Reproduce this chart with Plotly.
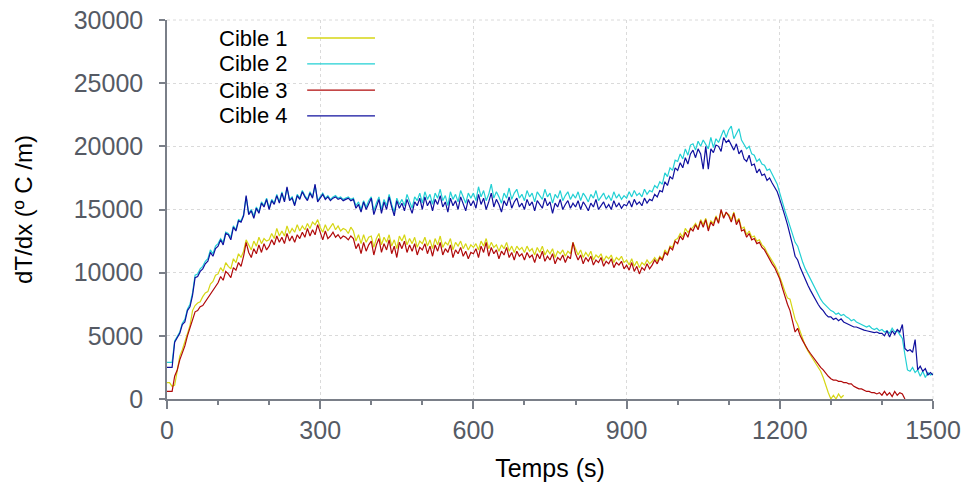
import plotly.graph_objects as go

# ---- Data (5 s sampling) ----
time_s = list(range(0, 1505, 5))

cible_1 = [
    1300, 1300, 1000, 1100, 2200, 3400, 3900, 4500, 5200, 5800, 7000, 7400, 7600, 7700, 8100, 8400, 8500, 9100, 9300, 9800,
    9900, 10400, 10100, 10800, 10500, 10300, 11100, 10800, 11500, 11200, 11700, 12600, 12200, 11800, 12500, 12100, 12800, 12300, 12700, 12500,
    12600, 13100, 12700, 13500, 12900, 13300, 12900, 13700, 13100, 13500, 13200, 13800, 13300, 13700, 13400, 13900, 13500, 14000, 13800, 14200,
    13600, 13200, 13800, 13300, 13600, 13900, 13400, 13700, 13300, 13500, 13400, 13100, 13600, 13300, 12500, 13000, 12300, 13000, 12400, 12800,
    12900, 12000, 12700, 13100, 12200, 12800, 12400, 13000, 12100, 12600, 11900, 12900, 12500, 13000, 12200, 12700, 12300, 12800, 12000, 12500,
    12300, 12800, 12100, 12600, 11900, 12700, 12200, 12900, 12000, 12400, 12200, 12700, 11800, 12400, 12100, 12500, 11900, 12300, 11800, 12200,
    12000, 12300, 11800, 12500, 12100, 12700, 11900, 12400, 12000, 12200, 11700, 12200, 11900, 12400, 11700, 12100, 11600, 12100, 11800, 12000,
    11600, 12100, 11700, 11900, 11400, 12000, 11600, 12100, 11400, 11800, 11500, 11900, 11200, 11700, 11500, 11800, 11300, 11700, 11500, 12400,
    11900, 11400, 11800, 11200, 11600, 11300, 11700, 11000, 11400, 11200, 11500, 10900, 11300, 11100, 11400, 10800, 11200, 11000, 11300, 10800,
    11000, 10600, 11100, 10500, 10900, 10400, 10800, 10600, 11000, 10700, 10900, 11200, 10900, 11300, 11100, 11800, 11500, 12100, 12000, 12600,
    12700, 13100, 12800, 13500, 13200, 13400, 13600, 13900, 13500, 14200, 13800, 14300, 13500, 14100, 13900, 14500, 14000, 14900, 14400, 14700,
    14600, 14200, 14800, 14000, 14300, 13500, 13600, 13000, 13300, 12800, 12900, 12500, 12600, 12200, 12000, 11600, 11300, 10900, 10600, 10200,
    9700, 9100, 8500, 8000, 7900, 7000, 6300, 5900, 5300, 4700, 4200, 3800, 3500, 3100, 2800, 2600, 2200, 1700, 1000, 500,
    0, 300, 0, 400, 100, 300,
]

cible_2 = [
    2900, 2900, 2900, 4600, 5000, 5300, 6000, 6300, 7100, 7500, 8400, 9800, 9900, 10300, 10500, 10900, 11100, 11800, 11500, 12100,
    12300, 12700, 12400, 13200, 13100, 12800, 13700, 13400, 14200, 14100, 14600, 16000, 14700, 15000, 14500, 15200, 14800, 15600, 15300, 15900,
    15100, 15800, 15500, 16200, 15600, 16400, 15700, 16700, 15800, 16000, 15400, 16200, 15900, 16500, 16100, 15800, 16400, 16000, 16900, 15700,
    16000, 16300, 15900, 16100, 15800, 16000, 16100, 15900, 16000, 15800, 15900, 16000, 15800, 15900, 15300, 15600, 15000, 15700, 15200, 15700,
    16000, 14900, 15500, 16000, 15000, 15800, 15300, 16200, 15400, 14800, 15900, 15400, 15800, 15300, 16200, 15600, 15100, 16000, 15700, 16300,
    15500, 16400, 15800, 16200, 15400, 16300, 15900, 16600, 15700, 16100, 15300, 16400, 15800, 16200, 15600, 16500, 16000, 15500, 16300, 15900,
    16300, 15700, 16800, 16000, 16500, 15700, 16200, 17000, 15900, 16400, 16000, 15500, 16300, 15900, 16700, 15800, 16300, 16600, 15900, 16200,
    15700, 16500, 16000, 16300, 15600, 16400, 16100, 15800, 16600, 16000, 16300, 15500, 16200, 15900, 16500, 15700, 16100, 16400, 15800, 16200,
    15900, 16400, 15700, 16300, 16000, 15600, 16200, 15900, 16500, 15700, 16000, 16300, 15800, 16100, 15700, 16400, 15900, 16200, 15800, 16100,
    15900, 16400, 16000, 16500, 16100, 16300, 16000, 16600, 16200, 16500, 16400, 16900, 16700, 17200, 17000, 17900, 17600, 18300, 18100, 18900,
    18800, 19400, 19000, 19800, 19300, 20100, 20200, 19700, 20400, 20000, 20500, 20100, 19800, 20700, 19900, 20600, 20300, 20800, 21300, 20700,
    21300, 21600, 20600, 21000, 21400, 20500, 20200, 19800, 20000, 19400, 19300, 18800, 19000, 18600, 18500, 18100, 18200, 17800, 17500, 17000,
    16300, 15500, 14900, 14300, 13700, 13000, 12400, 12100, 11400, 10800, 10300, 9900, 9400, 9000, 8600, 8200, 7900, 7600, 7400, 7200,
    7000, 6900, 6700, 6800, 6600, 6700, 6500, 6400, 6200, 6300, 6100, 6000, 5900, 5800, 5700, 5800, 5600, 5500, 5600, 5400,
    5500, 5300, 5400, 5200, 5600, 5300, 5400, 5100, 4800, 3500, 2300, 2200, 2500, 2100, 2300, 1800, 2200, 1700, 2100, 1900,
    2000,
]

cible_3 = [
    600, 600, 600, 1800, 2300, 3100, 3600, 4200, 5000, 5700, 6400, 6900, 7000, 7300, 7400, 7700, 7900, 8300, 8600, 8800,
    9200, 9700, 9400, 10100, 9900, 9600, 10400, 10200, 10800, 10500, 11300, 12400, 11600, 11200, 11900, 11500, 12200, 11600, 12300, 11800,
    12100, 12600, 12200, 12900, 12400, 12800, 12300, 13100, 12500, 12900, 12400, 13000, 12700, 13200, 12800, 13500, 12900, 13400, 13000, 13800,
    13100, 12600, 13300, 12700, 12900, 13200, 12800, 13000, 12700, 12900, 12800, 12600, 12900, 12700, 11900, 12300, 11500, 12400, 11700, 12200,
    12500, 11400, 12200, 12700, 11600, 12300, 11800, 12600, 11500, 12100, 11200, 12400, 11900, 12500, 11600, 12200, 11700, 12300, 11400, 12000,
    11800, 12300, 11500, 12100, 11300, 12200, 11700, 12400, 11400, 11900, 11600, 12200, 11200, 11800, 11500, 12000, 11300, 11700, 11100, 11600,
    11500, 11900, 11200, 12100, 11600, 12400, 11300, 12000, 11500, 11800, 11100, 11700, 11400, 12000, 11200, 11600, 11000, 11700, 11300, 11500,
    11000, 11600, 11200, 11400, 10800, 11500, 11100, 11700, 10900, 11300, 11000, 11500, 10700, 11200, 11000, 11400, 10800, 11300, 11100, 12400,
    11500, 11000, 11400, 10700, 11200, 10900, 11300, 10600, 11000, 10800, 11200, 10500, 10900, 10700, 11100, 10400, 10800, 10600, 10900, 10300,
    10600, 10200, 10800, 10100, 10500, 9900, 10400, 10200, 10700, 10300, 10600, 11000, 10700, 11200, 11000, 11600, 11400, 12000, 11800, 12500,
    12300, 12900, 12600, 13200, 12800, 13500, 13300, 13800, 13400, 14100, 13600, 14200, 13300, 14000, 13700, 14400, 13900, 15000, 14300, 14800,
    14500, 14000, 14700, 13800, 14200, 13300, 13400, 12800, 13100, 12600, 12700, 12300, 12400, 12000, 11800, 11400, 11100, 10700, 10400, 10000,
    9500, 8800, 8100, 7500, 7000, 6200, 5300, 5600, 5000, 4600, 4200, 3900, 3600, 3300, 3000, 2800, 2500, 2300, 2000, 1800,
    1600, 1500, 1500, 1400, 1400, 1300, 1300, 1200, 1200, 1000, 900, 800, 800, 700, 600, 600, 500, 500, 400, 500,
    300, 600, 300, 500, 200, 600, 300, 500, 400, 0,
]

cible_4 = [
    2500, 2500, 2500, 4500, 4900, 5200, 5900, 6100, 7000, 7300, 8200, 9600, 9700, 10100, 10300, 10700, 10900, 11600, 11300, 11900,
    12100, 12600, 12200, 13100, 13000, 12600, 13600, 13300, 14100, 14000, 14500, 16100, 14600, 14900, 14300, 15100, 14700, 15500, 15200, 15800,
    15000, 15700, 15400, 16100, 15500, 16300, 15600, 16800, 15700, 15900, 15300, 16100, 15800, 16400, 16000, 15700, 16300, 15900, 17000, 15600,
    15900, 16200, 15800, 16000, 15700, 15900, 16000, 15800, 15900, 15700, 15800, 15900, 15700, 15800, 15100, 15400, 14800, 15600, 15000, 15500,
    15900, 14600, 15300, 15800, 14700, 15600, 15000, 16000, 15200, 14500, 15700, 15100, 15500, 14900, 15800, 15200, 14700, 15600, 15300, 15900,
    15000, 16000, 15300, 15700, 14900, 15800, 15400, 16100, 15200, 15600, 14800, 15900, 15300, 15700, 15000, 16000, 15500, 14900, 15800, 15300,
    15700, 15100, 16200, 15400, 15900, 15000, 15600, 16300, 15200, 15800, 15400, 14800, 15700, 15300, 16000, 15100, 15600, 15900, 15200, 15500,
    15000, 15800, 15300, 15600, 14900, 15700, 15400, 15100, 15900, 15300, 15600, 14700, 15500, 15200, 15800, 15000, 15400, 15700, 15100, 15500,
    15200, 15700, 15000, 15600, 15300, 14900, 15500, 15200, 15800, 15000, 15300, 15600, 15100, 15400, 15000, 15700, 15200, 15500, 15100, 15400,
    15300, 15700, 15200, 15800, 15400, 15600, 15300, 15900, 15500, 15800, 15700, 16200, 16000, 16500, 16400, 17200, 16900, 17600, 17400, 18300,
    18100, 18700, 18300, 19100, 18600, 19400, 19700, 19100, 19800, 19400, 18200, 20000, 18200, 19800, 19500, 20100, 20000, 19600, 20700, 20300,
    20500, 20100, 19700, 20200, 19400, 19700, 19000, 18800, 19300, 18500, 18600, 17900, 18200, 17700, 17800, 17300, 17500, 17100, 16800, 16400,
    15800, 15200, 14500, 13800, 13100, 12200, 11300, 11000, 10400, 9900, 9400, 9000, 8600, 8200, 7900, 7500, 7200, 7000, 6700, 6500,
    6500, 6300, 6400, 6200, 6350, 6100, 6000, 5900, 5800, 5700, 5700, 5600, 5500, 5450, 5400, 5350, 5300, 5250, 5300, 5200,
    5200, 5000, 5400, 4900, 5400, 5100, 5500, 5300, 5900, 4000, 3800, 3900, 3700, 4700, 2300, 2600, 2200, 2400, 1900, 2100,
    1900,
]

series_names = ["Cible 1", "Cible 2", "Cible 3", "Cible 4"]
series_values = [cible_1, cible_2, cible_3, cible_4]
series_colors = ["#d6d614", "#22d0d4", "#b00a0a", "#10109e"]

x_ticks = [0, 300, 600, 900, 1200, 1500]
y_ticks = [0, 5000, 10000, 15000, 20000, 25000, 30000]

FONT = "Liberation Sans, Arial, sans-serif"
AXIS_GRAY = "#7a7f88"
TICK_TEXT = "#555a64"
GRID = "#dadada"

fig = go.Figure()
for name, vals, col in zip(series_names, series_values, series_colors):
    fig.add_trace(go.Scatter(
        x=time_s[:len(vals)], y=vals, mode="lines", name=name,
        line=dict(color=col, width=1.2), showlegend=False,
    ))

# Dotted grid lines along the top and right edges of the plot area
fig.add_shape(type="line", xref="paper", yref="paper", x0=0, x1=1, y0=1, y1=1,
              line=dict(color=GRID, width=1, dash="dot"), layer="below")
fig.add_shape(type="line", xref="paper", yref="paper", x0=1, x1=1, y0=0, y1=1,
              line=dict(color=GRID, width=1, dash="dot"), layer="below")

# Legend drawn manually (text on the left, line sample on the right)
legend_y = [0.9525, 0.884, 0.815, 0.747]
for name, col, ly in zip(series_names, series_colors, legend_y):
    fig.add_annotation(x=0.159, y=ly, xref="paper", yref="paper", text=name,
                       showarrow=False, xanchor="right", yanchor="middle",
                       font=dict(family=FONT, size=22, color="#000000"))
    fig.add_shape(type="line", xref="paper", yref="paper",
                  x0=0.183, x1=0.2715, y0=ly, y1=ly,
                  line=dict(color=col, width=1.3))

fig.update_layout(
    width=969, height=486,
    margin=dict(l=167, r=36, t=20, b=87),
    paper_bgcolor="white", plot_bgcolor="white",
    font=dict(family=FONT, size=25, color=TICK_TEXT),
    xaxis=dict(
        range=[0, 1500], tickvals=x_ticks, ticktext=[str(v) for v in x_ticks],
        automargin=False, ticklabeloverflow="allow",
        showgrid=True, gridcolor=GRID, griddash="dot", gridwidth=1,
        showline=True, linecolor=AXIS_GRAY, linewidth=1.5,
        ticks="outside", ticklen=8, tickcolor=AXIS_GRAY, tickwidth=1.5,
        minor=dict(dtick=100, ticks="outside", ticklen=4, tickcolor=AXIS_GRAY, showgrid=False),
        tickfont=dict(family=FONT, size=25, color=TICK_TEXT),
        title=dict(text="Temps (s)", font=dict(family=FONT, size=25, color="#000000"), standoff=17),
        zeroline=False,
    ),
    yaxis=dict(
        range=[0, 30000], tickvals=y_ticks, ticktext=[str(v) for v in y_ticks],
        automargin=False, ticklabelstandoff=11, ticklabeloverflow="allow",
        showgrid=True, gridcolor=GRID, griddash="dot", gridwidth=1,
        showline=True, linecolor=AXIS_GRAY, linewidth=1.5,
        ticks="outside", ticklen=6, tickcolor=AXIS_GRAY, tickwidth=1.5,
        tickfont=dict(family=FONT, size=25, color=TICK_TEXT),
        title=dict(text="dT/dx (º C /m)", font=dict(family=FONT, size=24, color="#000000"), standoff=34),
        zeroline=False,
    ),
)

# Remove the browser's default page margin so the figure sits at the window's top-left corner
fig.write_html("out.html", config={"displayModeBar": False},
               post_script="document.body.style.margin='0';")
